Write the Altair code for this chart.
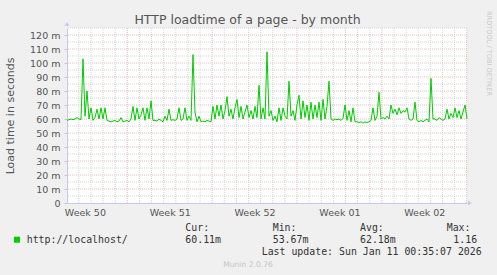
import altair as alt
import pandas as pd
from datetime import datetime, timedelta

# ---- data (milliseconds of load time, one sample every ~4 h) ----
load_ms = [
    59, 59.5, 60, 59.5, 60, 61, 60, 59.5,
    103, 62, 80, 60, 68, 59, 61, 67, 60, 68, 60, 68, 59,
    58.5, 58, 58.5, 59, 58, 58.5, 61, 58, 58.5, 59, 58,
    60, 69, 59, 68, 60, 63, 68, 59, 68, 60, 73, 59,
    59, 58.5, 60, 59, 58,
    62, 59, 67, 59, 59.5, 59, 60, 68, 59, 60, 68, 59, 62, 59, 106, 65, 58, 62, 58,
    58.5, 58, 59, 58.5, 58,
    69, 60, 70, 62, 70, 60, 66, 76, 62, 67, 60, 68, 74, 61, 69, 60, 65, 70, 61, 66,
    60, 69, 61, 84, 60, 68, 60, 108, 62, 66, 59, 62, 58, 68, 59, 68, 62, 60, 87, 62,
    66, 59, 70, 77, 60, 73, 61, 70, 59, 72, 60, 70, 61, 72, 59, 74, 60, 69, 87, 60,
    59, 60, 59.5, 60, 59, 60.5, 70, 59, 66, 58, 68, 58, 58, 57.5, 58, 57, 58, 57.5,
    58, 59, 68, 59, 62, 79, 60, 61, 60, 62, 60, 70, 64, 67, 63, 68, 64, 66, 65, 68,
    60, 59, 60, 72, 59, 58, 59, 58, 59, 60, 58, 89, 60, 60, 59, 61, 60, 59, 60, 67,
    60, 64, 61, 68, 61, 66, 60, 65, 70, 60,
]
y_ticks = list(range(0, 121, 10))
week_label_days = ["2025-12-10T12:00:00", "2025-12-17T12:00:00", "2025-12-24T12:00:00",
                   "2025-12-31T12:00:00", "2026-01-07T12:00:00"]
legend_name = "http://localhost/"
stat_names = ["Cur:", "Min:", "Avg:", "Max:"]
stat_values = ["60.11m", "53.67m", "62.18m", "1.16"]
last_update = "Last update: Sun Jan 11 00:35:07 2026"
title_text = "HTTP loadtime of a page - by month"
y_title = "Load time in seconds"

EPOCH = datetime(1970, 1, 1)
def ms(t):
    return int((t - EPOCH).total_seconds() * 1000)

END = datetime(2026, 1, 11, 0, 35, 7)
START = END - timedelta(days=33)
n = len(load_ms)
step = (END - START) / (n - 1)
df = pd.DataFrame({"t": [ms(START + i * step) for i in range(n)], "v": load_ms})

# grid: every midnight, weeks start on Sunday
minor_days, week_days = [], []
d = datetime(2025, 12, 10)
while d < END:
    (week_days if d.weekday() == 6 else minor_days).append(ms(d))
    d += timedelta(days=1)
minor_y = [v for v in range(5, 126, 5) if v % 10]
major_y = [v for v in range(10, 121, 10)]

week_vals = [ms(datetime.fromisoformat(s)) for s in week_label_days]

W, H, L, T = 400, 175, 67, 28
AX = "#c6c8ec"
MINOR = "#d6d6d6"
MAJOR = "#eebcbc"

xscale = alt.Scale(type="utc", domain=[ms(START), ms(END)])
yscale = alt.Scale(domain=[0, 125], nice=False)
xaxis = alt.Axis(values=week_vals, labelExpr="utcFormat(datum.value, 'Week %V')",
                 ticks=False, grid=False, domainColor=AX, labelFont="DejaVu Sans",
                 labelFontSize=9.5, labelColor="#555", labelBaseline="alphabetic",
                 labelPadding=12.5, labelAlign="center", labelOverlap=False,
                 labelFlush=False, title=None)
yaxis = alt.Axis(values=y_ticks, labelExpr="datum.value == 0 ? '0' : datum.value + ' m'",
                 grid=False, domainColor=AX, tickColor="#c8c8c8", tickSize=3,
                 labelPadding=4, labelFont="DejaVu Sans", labelFontSize=9.5,
                 labelColor="#555", titleFont="DejaVu Sans", titleFontSize=11,
                 titleColor="#555", titleFontWeight="normal", titleX=-57,
                 titleY=H / 2, titleAngle=270, titleBaseline="middle",
                 titleAlign="center", title=y_title)

X = alt.X("t:T", scale=xscale, axis=xaxis)
Y = alt.Y("v:Q", scale=yscale, axis=yaxis)

vgrid_minor = alt.Chart(pd.DataFrame({"t": minor_days})).mark_rule(
    color=MINOR, strokeDash=[1, 1], strokeWidth=1).encode(x=X)
vgrid_major = alt.Chart(pd.DataFrame({"t": week_days})).mark_rule(
    color=MAJOR, strokeDash=[1, 1], strokeWidth=1).encode(x=X)
hgrid_minor = alt.Chart(pd.DataFrame({"v": minor_y})).mark_rule(
    color=MINOR, strokeDash=[1, 1], strokeWidth=1).encode(y=Y)
hgrid_major = alt.Chart(pd.DataFrame({"v": major_y})).mark_rule(
    color=MAJOR, strokeDash=[1, 1], strokeWidth=1).encode(y=Y)

line = alt.Chart(df).mark_line(color="#00cc00", strokeWidth=1).encode(x=X, y=Y)

one = pd.DataFrame({"a": [0]})
def txt(s, x, y, size=9.9, font="DejaVu Sans Mono", color="#333", align="left", angle=0,
        baseline="alphabetic"):
    return alt.Chart(one).mark_text(text=s, font=font, fontSize=size, color=color, align=align,
                                    baseline=baseline, angle=angle).encode(
        x=alt.value(x - L), y=alt.value(y - T))

stat_x = [185.3, 272.7, 360.0, 446.7]
val_x = [185.3, 272.7, 360.0, 453.3]
texts = [txt(title_text, 247.5, 23.5, size=12.5, font="DejaVu Sans", color="#555",
             align="center")]
texts.append(txt(legend_name, 26.7, 243))
for nm, vx, sx, sv in zip(stat_names, stat_x, val_x, stat_values):
    texts.append(txt(nm, vx, 231))
    texts.append(txt(sv, sx, 243))
texts.append(txt(last_update, 261.7, 255))
texts.append(txt("Munin 2.0.76", 248, 267, size=7.6, font="DejaVu Sans", color="#c4c4c4",
                 align="center"))
texts.append(txt("RRDTOOL / TOBI OETIKER", 488.5, 53.5, size=6.6, font="DejaVu Sans",
                 color="#c8c8c8", align="center", angle=90, baseline="middle"))

swatch = alt.Chart(one).mark_square(size=36, color="#00cc00", opacity=1, filled=True).encode(
    x=alt.value(17 - L), y=alt.value(239.7 - T))
arrow_up = alt.Chart(one).mark_point(shape="triangle-up", size=22, filled=True, color=AX,
                                     opacity=1).encode(x=alt.value(0), y=alt.value(-4))
arrow_right = alt.Chart(one).mark_point(shape="triangle-right", size=22, filled=True, color=AX,
                                        opacity=1).encode(x=alt.value(W + 3), y=alt.value(H))

chart = alt.layer(
    hgrid_minor, hgrid_major, vgrid_minor, vgrid_major, line, swatch, arrow_up, arrow_right,
    *texts
).properties(
    width=W, height=H,
    padding={"left": L, "top": T, "right": 497 - L - W, "bottom": 275 - T - H},
    autosize=alt.AutoSizeParams(type="none"),
    background="#f0f0f0",
).configure_view(fill="white", stroke=None)

chart.save("out.html", embed_options={"renderer": "svg", "actions": False})
